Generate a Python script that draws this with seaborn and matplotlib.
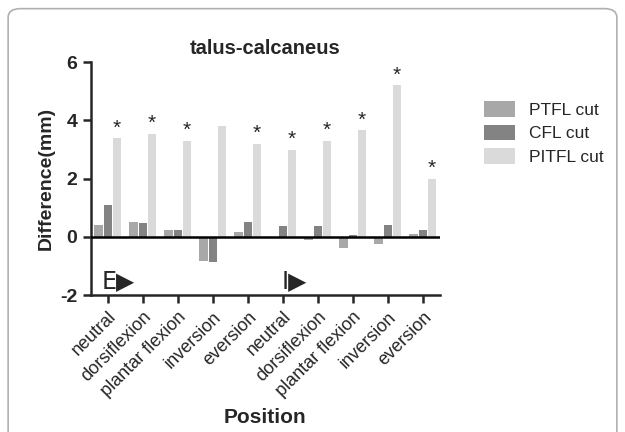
import matplotlib
matplotlib.use("Agg")
import matplotlib.pyplot as plt
import seaborn as sns
import pandas as pd
from matplotlib.patches import FancyBboxPatch

positions = ["neutral", "dorsiflexion", "plantar flexion", "inversion", "eversion",
             "neutral", "dorsiflexion", "plantar flexion", "inversion", "eversion"]
series = ["PTFL cut", "CFL cut", "PITFL cut"]
ptfl = [0.42, 0.5, 0.22, -0.82, 0.16, -0.05, -0.1, -0.4, -0.25, 0.1]
cfl = [1.08, 0.48, 0.25, -0.87, 0.52, 0.38, 0.38, 0.05, 0.4, 0.25]
pitfl = [3.38, 3.55, 3.3, 3.8, 3.2, 3.0, 3.3, 3.67, 5.2, 2.0]
significant = [True, True, True, False, True, True, True, True, True, True]
colors = ["#a8a8a8", "#838383", "#dadada"]

slots = [f"{i}" for i in range(len(positions))]
rows = []
for s, vals in zip(series, [ptfl, cfl, pitfl]):
    for slot, v in zip(slots, vals):
        rows.append({"slot": slot, "series": s, "value": v})
df = pd.DataFrame(rows)

sns.set_style("ticks")
plt.rcParams['font.family'] = ['Liberation Sans', 'DejaVu Sans']

fig = plt.figure(figsize=(6.25, 4.32), dpi=100)
ax = fig.add_axes([0.145, 0.317, 0.559, 0.539])

sns.barplot(data=df, x="slot", y="value", hue="series", order=slots,
            hue_order=series, palette=colors, width=0.8, ax=ax,
            saturation=1, errorbar=None, edgecolor="none")

# separate bars slightly
for cont in ax.containers:
    for p in cont:
        w = p.get_width()
        p.set_x(p.get_x() + w * 0.05)
        p.set_width(w * 0.9)

# stars
for p, sig in zip(ax.containers[2], significant):
    if sig:
        ax.text(p.get_x() + p.get_width() / 2, p.get_height() + 0.02, "*",
                ha="center", va="bottom", fontsize=15)

ax.axhline(0, color="black", lw=1.8, zorder=3)
ax.set_ylim(-2, 6)
ax.set_xlim(-0.49, 9.49)
ax.set_yticks([-2, 0, 2, 4, 6])
ax.set_yticklabels(["-2", "0", "2", "4", "6"], fontweight="bold", fontsize=14)
ax.set_xticks(range(len(positions)))
ax.set_xticklabels(positions, rotation=45, ha="right", rotation_mode="anchor",
                   fontsize=13)
for s in ["top", "right"]:
    ax.spines[s].set_visible(False)
for s in ["left", "bottom"]:
    ax.spines[s].set_linewidth(1.8)
ax.tick_params(axis="both", width=1.8, length=6, direction="out")

ax.set_title("talus-calcaneus", fontweight="bold", fontsize=14.5, pad=6)
ax.set_ylabel("Difference(mm)", fontweight="bold", fontsize=14, labelpad=4)
ax.set_xlabel("Position", fontweight="bold", fontsize=15, labelpad=6)

ax.text(-0.17, -1.52, "E\u25B6", fontsize=17, va="center", ha="left",
        family=["DejaVu Sans"])
ax.text(4.98, -1.52, "I\u25B6", fontsize=17, va="center", ha="left",
        family=["DejaVu Sans"])

leg = ax.legend(loc="upper left", bbox_to_anchor=(1.08, 0.9), frameon=False,
                fontsize=12.5, handlelength=1.8, handleheight=1.0,
                labelspacing=0.4, handletextpad=0.8)

border = FancyBboxPatch((0.013, -0.2), 0.974, 1.18, boxstyle="round,pad=0,rounding_size=0.02",
                        transform=fig.transFigure, fill=False, edgecolor="#b0b0b0",
                        lw=1.2)
fig.patches.append(border)

fig.savefig("out.png", dpi=100)
